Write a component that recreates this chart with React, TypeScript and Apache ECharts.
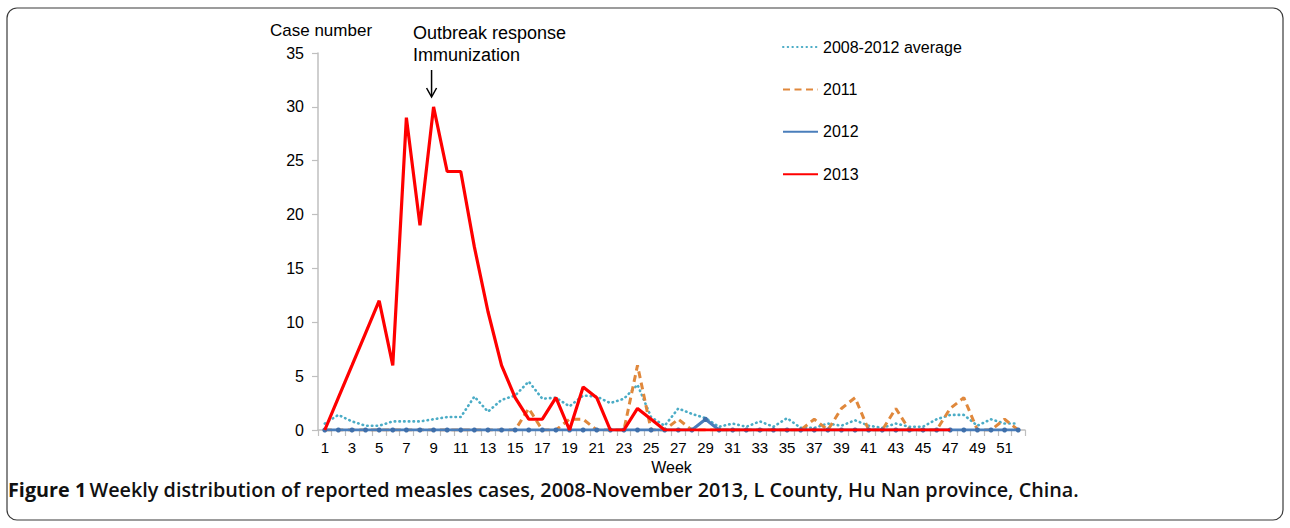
import React, { useEffect, useRef } from "react";
import * as echarts from "echarts";

const weeks = [
  "1","2","3","4","5","6","7","8","9","10","11","12","13","14","15","16","17","18","19","20",
  "21","22","23","24","25","26","27","28","29","30","31","32","33","34","35","36","37","38","39","40",
  "41","42","43","44","45","46","47","48","49","50","51","52",
];

const avg0812 = [
  0.6, 1.4, 0.8, 0.4, 0.4, 0.8, 0.8, 0.8, 1.0, 1.2, 1.2, 3.1, 1.7, 2.8, 3.2, 4.5, 2.9, 3.0, 2.2, 3.2,
  3.1, 2.5, 2.9, 4.2, 1.2, 0.4, 2.0, 1.5, 1.1, 0.3, 0.6, 0.3, 0.8, 0.3, 1.1, 0.2, 0.2, 0.6, 0.4, 0.9,
  0.4, 0.2, 0.6, 0.3, 0.3, 1.0, 1.4, 1.4, 0.4, 1.0, 0.6, 0.6,
];

const y2011 = [
  0, 0, 0, 0, 0, 0, 0, 0, 0, 0, 0, 0, 0, 0, 0, 2, 0, 0, 1, 1,
  0, 0, 0, 6, 0, 0, 1, 0, 0, 0, 0, 0, 0, 0, 0, 0, 1, 0, 2, 3,
  0, 0, 2, 0, 0, 0, 2, 3, 0, 0, 1, 0,
];

const y2012 = [
  0, 0, 0, 0, 0, 0, 0, 0, 0, 0, 0, 0, 0, 0, 0, 0, 0, 0, 0, 0,
  0, 0, 0, 0, 0, 0, 0, 0, 1, 0, 0, 0, 0, 0, 0, 0, 0, 0, 0, 0,
  0, 0, 0, 0, 0, 0, 0, 0, 0, 0, 0, 0,
];

const y2013 = [
  0, 3, 6, 9, 12, 6, 29, 19, 30, 24, 24, 17, 11, 6, 3, 1, 1, 3, 0, 4,
  3, 0, 0, 2, 1, 0, 0, 0, 0, 0, 0, 0, 0, 0, 0, 0, 0, 0, 0, 0,
  0, 0, 0, 0, 0, 0, 0, null, null, null, null, null,
];

const seriesNames = ["2008-2012 average", "2011", "2012", "2013"];
const annotationWeek = "9";
const annotationLines = ["Outbreak response", "Immunization"];
const yTitle = "Case number";
const xTitle = "Week";
const captionBold = "Figure 1";
const captionText =
  "Weekly distribution of reported measles cases, 2008-November 2013, L County, Hu Nan province, China.";

const AXIS_FONT = "'Liberation Sans', Arial, sans-serif";

export default function App() {
  const ref = useRef<HTMLDivElement>(null);

  useEffect(() => {
    if (!ref.current) return;
    const chart = echarts.init(ref.current, null, { renderer: "svg" });
    const option: any = {
      animation: false,
      backgroundColor: "#ffffff",
      grid: { left: 318, right: 265, top: 53, bottom: 98, containLabel: false },
      legend: {
        orient: "vertical",
        left: 777,
        top: 34,
        itemWidth: 35,
        itemHeight: 14,
        itemGap: 26.4,
        itemStyle: { opacity: 0 },
        textStyle: { fontFamily: AXIS_FONT, fontSize: 16, color: "#000" },
        data: seriesNames,
      },
      xAxis: {
        type: "category",
        data: weeks,
        boundaryGap: true,
        name: xTitle,
        nameLocation: "middle",
        nameGap: 29,
        nameTextStyle: { fontFamily: AXIS_FONT, fontSize: 16, color: "#000" },
        axisLine: { lineStyle: { color: "#bfbfbf", width: 1.5 } },
        axisTick: { show: true, interval: 0, length: 6, lineStyle: { color: "#bfbfbf", width: 1.2 } },
        axisLabel: {
          interval: 1,
          margin: 10,
          fontFamily: AXIS_FONT,
          fontSize: 15,
          color: "#000",
        },
        splitLine: { show: false },
      },
      yAxis: {
        type: "value",
        min: 0,
        max: 35,
        interval: 5,
        axisLine: { show: true, lineStyle: { color: "#bfbfbf", width: 1.5 } },
        axisTick: { show: true, length: 6, lineStyle: { color: "#bfbfbf", width: 1.2 } },
        axisLabel: { margin: 14, fontFamily: AXIS_FONT, fontSize: 16, color: "#000" },
        splitLine: { show: false },
      },
      series: [
        {
          name: seriesNames[0],
          type: "line",
          data: avg0812,
          symbol: "none",
          lineStyle: { color: "#4BACC6", width: 2.6, type: [0.5, 4.2], cap: "round" },
          itemStyle: { color: "#4BACC6" },
          z: 2,
        },
        {
          name: seriesNames[1],
          type: "line",
          data: y2011,
          symbol: "none",
          lineStyle: { color: "#E0883C", width: 3, type: [7, 4.5] },
          itemStyle: { color: "#E0883C" },
          z: 3,
        },
        {
          name: seriesNames[2],
          type: "line",
          data: y2012,
          symbol: "circle",
          symbolSize: 5,
          showSymbol: true,
          lineStyle: { color: "#4A7EBB", width: 3 },
          itemStyle: { color: "#3F6FAA" },
          z: 4,
        },
        {
          name: seriesNames[3],
          type: "line",
          data: y2013,
          symbol: "none",
          connectNulls: false,
          lineStyle: { color: "#FF0000", width: 3.2 },
          itemStyle: { color: "#FF0000" },
          z: 5,
        },
      ],
    };
    chart.setOption(option);

    const [ax] = chart.convertToPixel({ xAxisIndex: 0, yAxisIndex: 0 }, [annotationWeek, 30]) as number[];
    chart.setOption({
      graphic: [
        {
          type: "rect",
          shape: { x: 7, y: 8, width: 1276, height: 512, r: 10 },
          style: { fill: "none", stroke: "#3a3a3a", lineWidth: 1.2 },
          silent: true,
        },
        {
          type: "text",
          left: 270,
          top: 22,
          style: { text: yTitle, fontFamily: AXIS_FONT, fontSize: 17, fill: "#000" },
        },
        {
          type: "text",
          left: 413,
          top: 22,
          style: {
            text: annotationLines.join("\n"),
            fontFamily: AXIS_FONT,
            fontSize: 18,
            lineHeight: 22,
            fill: "#000",
          },
        },
        {
          type: "line",
          shape: { x1: ax - 2, y1: 70, x2: ax - 2, y2: 96 },
          style: { stroke: "#000", lineWidth: 1.5 },
        },
        {
          type: "polyline",
          shape: { points: [[ax - 7, 88], [ax - 2, 97], [ax + 3, 88]] },
          style: { stroke: "#000", lineWidth: 1.5, fill: "none" },
        },
        {
          type: "text",
          left: 8,
          top: 479,
          style: {
            text: "{b|" + captionBold + "} {n|" + captionText + "}",
            rich: {
              b: { fontFamily: "'Open Sans', sans-serif", fontWeight: "bold", fontSize: 19.8, lineHeight: 20, fill: "#111" },
              n: { fontFamily: "'Open Sans', sans-serif", fontWeight: 600, fontSize: 19.8, lineHeight: 20, fill: "#111" },
            },
          },
        },
      ],
    });

    return () => chart.dispose();
  }, []);

  return (
    <div
      ref={ref}
      style={{ position: "fixed", left: 0, top: 0, width: 1290, height: 528, background: "#fff" }}
    />
  );
}
